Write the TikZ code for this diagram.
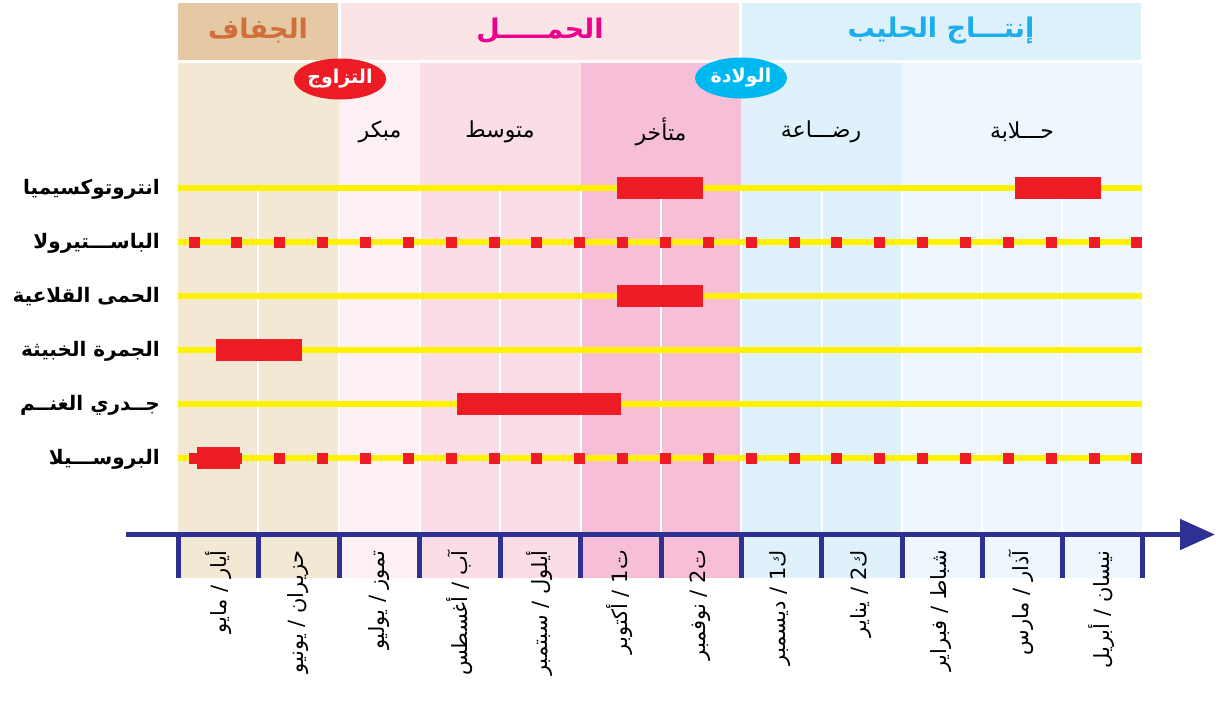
\documentclass[tikz,border=0pt]{standalone}
\usepackage{fontspec}
\newfontfamily\arabicfont[Script=Arabic]{DejaVu Sans}
\TeXXeTstate=1
\usetikzlibrary{shapes.geometric,arrows.meta}

\definecolor{drytop}{HTML}{E5C9A4}
\definecolor{drytext}{HTML}{D06F3A}
\definecolor{pregtop}{HTML}{FBE4E5}
\definecolor{pregtext}{HTML}{EC008C}
\definecolor{milktop}{HTML}{DDF1FB}
\definecolor{milktext}{HTML}{1BAEEB}
\definecolor{drycol}{HTML}{F3E8D4}
\definecolor{earlycol}{HTML}{FDF0F5}
\definecolor{midcol}{HTML}{FBDDE8}
\definecolor{latecol}{HTML}{F7BFD7}
\definecolor{sucklecol}{HTML}{DFF1FB}
\definecolor{milkcol}{HTML}{EEF7FD}
\definecolor{lineyellow}{HTML}{FFF200}
\definecolor{markred}{HTML}{ED1C24}
\definecolor{birthblue}{HTML}{00B8F0}
\definecolor{axisblue}{HTML}{2E3192}

\tikzset{
  phasetitle/.style={font=\arabicfont\bfseries\fontsize{27}{30}\selectfont, inner sep=0pt},
  stagelabel/.style={font=\arabicfont\fontsize{22}{26}\selectfont, inner sep=0pt},
  eventmark/.style={ellipse, minimum width=92pt, minimum height=41pt, inner sep=0pt,
    text=white, font=\arabicfont\bfseries\fontsize{19}{22}\selectfont},
  rowlabel/.style={anchor=east, inner sep=0pt, font=\arabicfont\bfseries\fontsize{20}{24}\selectfont},
  monthlabel/.style={rotate=90, anchor=east, inner sep=0pt, font=\arabicfont\fontsize{21}{24}\selectfont},
  rowline/.style={draw=lineyellow, line width=6pt},
  dotrow/.style={draw=markred, line width=11pt, dash pattern=on 11pt off 31.86pt},
  monthgap/.style={draw=white, line width=2pt},
  monthtick/.style={draw=axisblue, line width=5pt},
  timeaxis/.style={draw=axisblue, line width=5pt, -{Triangle[length=35pt,width=30pt]}}
}

\begin{document}
\begin{tikzpicture}[x=1pt,y=-1pt]
\useasboundingbox (0,0) rectangle (1216,712);

% top bands
\fill[drytop] (178,3) rectangle (338,60);
\fill[pregtop] (341,3) rectangle (739,60);
\fill[milktop] (742,3) rectangle (1141,60);

% month columns
\fill[drycol] (178,63) rectangle (339,578);
\fill[earlycol] (339,63) rectangle (420,578);
\fill[midcol] (420,63) rectangle (580.5,578);
\fill[latecol] (580.5,63) rectangle (741,578);
\fill[sucklecol] (741,63) rectangle (902,578);
\fill[milkcol] (902,63) rectangle (1142,578);
\draw[monthgap] (258.3,188) -- (258.3,532) (339,188) -- (339,532)
  (419.5,188) -- (419.5,532) (500,188) -- (500,532) (580.5,188) -- (580.5,532)
  (661,188) -- (661,532) (741,188) -- (741,532) (821.5,188) -- (821.5,532)
  (902,188) -- (902,532) (982,188) -- (982,532) (1062,188) -- (1062,532);

% rows
\draw[rowline] (178,188) -- (1142,188);
\draw[rowline] (178,242) -- (1142,242);
\draw[rowline] (178,296) -- (1142,296);
\draw[rowline] (178,350) -- (1142,350);
\draw[rowline] (178,404) -- (1142,404);
\draw[rowline] (178,458) -- (1142,458);
\draw[dotrow] (188.5,242) -- (1143,242);
\draw[dotrow] (188.5,458) -- (1143,458);

\fill[markred] (617,177) rectangle (703,199);
\fill[markred] (1015,177) rectangle (1101,199);
\fill[markred] (617,285) rectangle (703,307);
\fill[markred] (216,339) rectangle (302,361);
\fill[markred] (457,393) rectangle (621,415);
\fill[markred] (197,447) rectangle (240,469);

% time axis
\coordinate (axisstart) at (126,534.5);
\coordinate (axisend) at (1215,534.5);
\draw[timeaxis] (axisstart) -- (axisend);
\draw[monthtick] (178,532) -- (178,578) (258.3,532) -- (258.3,578) (339,532) -- (339,578)
  (419.5,532) -- (419.5,578) (500,532) -- (500,578) (580.5,532) -- (580.5,578)
  (661,532) -- (661,578) (741,532) -- (741,578) (821.5,532) -- (821.5,578)
  (902,532) -- (902,578) (982,532) -- (982,578) (1062,532) -- (1062,578)
  (1142,532) -- (1142,578);

% phase titles
\node[phasetitle, text=drytext] (dry) at (258,31) {\beginR الجفاف\endR};
\node[phasetitle, text=pregtext] (preg) at (540,31) {\beginR الحمـــــل\endR};
\node[phasetitle, text=milktext] (milk) at (941,31) {\beginR إنتـــاج الحليب\endR};

\node[stagelabel] (early) at (380,132) {\beginR مبكر\endR};
\node[stagelabel] (mid) at (500,132) {\beginR متوسط\endR};
\node[stagelabel] (late) at (661,132) {\beginR متأخر\endR};
\node[stagelabel] (suckle) at (821,132) {\beginR رضـــاعة\endR};
\node[stagelabel] (milking) at (1022,132) {\beginR حـــلابة\endR};

\node[eventmark, fill=markred] (mating) at (340,79) {\beginR التزاوج\endR};
\node[eventmark, fill=birthblue] (birth) at (741,78) {\beginR الولادة\endR};

% diseases
\node[rowlabel] (entero) at (160,189) {\beginR انتروتوكسيميا\endR};
\node[rowlabel] (pasteur) at (160,243) {\beginR الباســـتيرولا\endR};
\node[rowlabel] (fmd) at (160,297) {\beginR الحمى القلاعية\endR};
\node[rowlabel] (anthrax) at (160,351) {\beginR الجمرة الخبيثة\endR};
\node[rowlabel] (pox) at (160,405) {\beginR جــدري الغنــم\endR};
\node[rowlabel] (brucella) at (160,459) {\beginR البروســـيلا\endR};

% months
\node[monthlabel] (may) at (218.2,550) {\beginR أيار / مايو\endR};
\node[monthlabel] (jun) at (298.5,550) {\beginR حزيران / يونيو\endR};
\node[monthlabel] (jul) at (378.8,550) {\beginR تموز / يوليو\endR};
\node[monthlabel] (aug) at (459.2,550) {\beginR آب / أغسطس\endR};
\node[monthlabel] (sep) at (539.5,550) {\beginR أيلول / سبتمبر\endR};
\node[monthlabel] (oct) at (619.8,550) {\beginR ت1 / أكتوبر\endR};
\node[monthlabel] (nov) at (700.2,550) {\beginR ت2 / نوفمبر\endR};
\node[monthlabel] (dec) at (780.5,550) {\beginR ك1 / ديسمبر\endR};
\node[monthlabel] (jan) at (860.8,550) {\beginR ك2 / يناير\endR};
\node[monthlabel] (feb) at (941.2,550) {\beginR شباط / فبراير\endR};
\node[monthlabel] (mar) at (1021.5,550) {\beginR آذار / مارس\endR};
\node[monthlabel] (apr) at (1101.8,550) {\beginR نيسان / أبريل\endR};

\end{tikzpicture}
\end{document}
